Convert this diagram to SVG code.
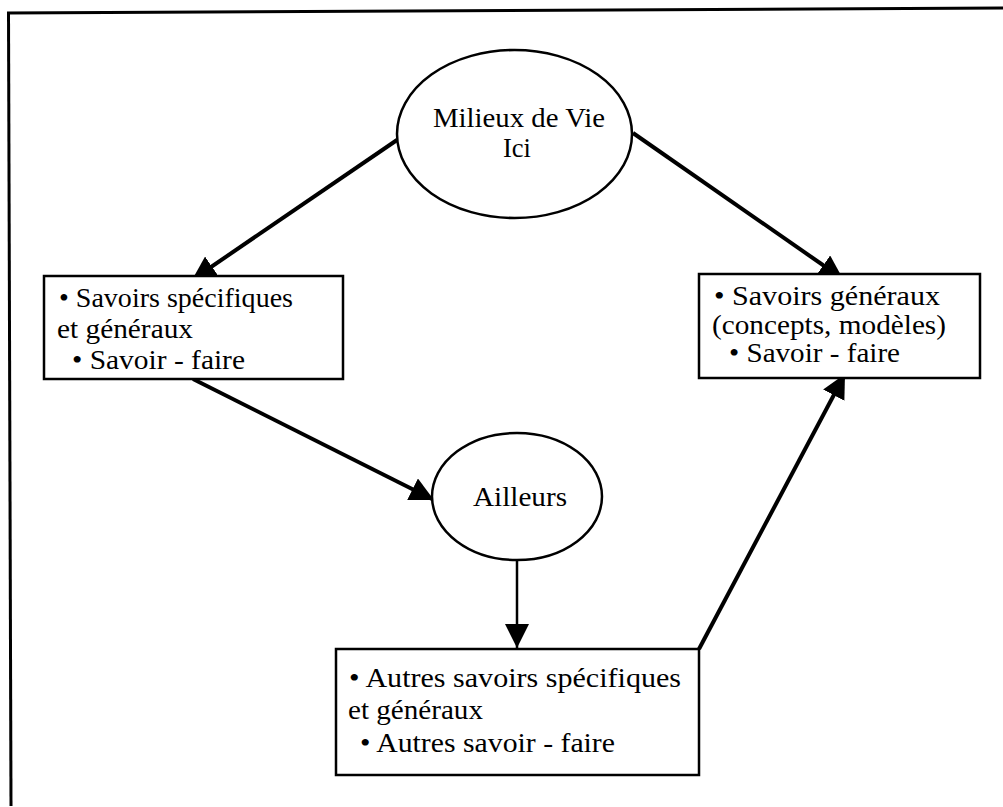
<svg xmlns="http://www.w3.org/2000/svg" width="1003" height="807" viewBox="0 0 1003 807">
<defs>
<style>
.t{font-family:"Liberation Serif","Times New Roman",serif;font-size:28px;fill:#000}
.c{text-anchor:middle}
.n{fill:#fff;stroke:#000;stroke-width:2.5}
.e{fill:#fff;stroke:#000;stroke-width:2.5}
.l{stroke:#000;stroke-width:4;fill:none}
.frame{stroke:#000;stroke-width:3;fill:none}
</style>
<marker id="ah" markerUnits="userSpaceOnUse" markerWidth="24" markerHeight="24" refX="24" refY="12" orient="auto" viewBox="0 0 24 24">
<path d="M0,0 L24,12 L0,24 z" fill="#000"/>
</marker>
</defs>
<rect width="1003" height="807" fill="#fff"/>
<g id="frame">
<line class="frame" x1="7" y1="13" x2="1003" y2="8"/>
<line class="frame" x1="8.5" y1="12" x2="11" y2="806"/>
</g>
<g id="connectors">
<line class="l" x1="397" y1="140" x2="192" y2="280" marker-end="url(#ah)"/>
<line class="l" x1="633" y1="133" x2="843" y2="279" marker-end="url(#ah)"/>
<line class="l" x1="193" y1="379" x2="434" y2="500" marker-end="url(#ah)"/>
<line class="l" style="stroke-width:2.5" x1="517" y1="560" x2="517" y2="648" marker-end="url(#ah)"/>
<line class="l" x1="699" y1="649" x2="845" y2="374" marker-end="url(#ah)"/>
</g>
<g id="milieux">
<ellipse class="e" cx="514.5" cy="134" rx="117.5" ry="84"/>
<text class="t" x="433" y="127" textLength="172" lengthAdjust="spacingAndGlyphs">Milieux de Vie</text>
<text class="t" x="503" y="157" textLength="28" lengthAdjust="spacingAndGlyphs">Ici</text>
</g>
<g id="savoirs-specifiques">
<rect class="n" x="44" y="276" width="299" height="103"/>
<text class="t" x="59" y="307" textLength="234" lengthAdjust="spacingAndGlyphs">• Savoirs spécifiques</text>
<text class="t" x="57" y="338" textLength="136" lengthAdjust="spacingAndGlyphs">et généraux</text>
<text class="t" x="72" y="369" textLength="173" lengthAdjust="spacingAndGlyphs">• Savoir - faire</text>
</g>
<g id="savoirs-generaux">
<rect class="n" x="699" y="274" width="281" height="104"/>
<text class="t" x="714" y="305" textLength="226" lengthAdjust="spacingAndGlyphs">• Savoirs généraux</text>
<text class="t" x="712" y="334" textLength="234" lengthAdjust="spacingAndGlyphs">(concepts, modèles)</text>
<text class="t" x="729" y="362" textLength="171" lengthAdjust="spacingAndGlyphs">• Savoir - faire</text>
</g>
<g id="ailleurs">
<ellipse class="e" cx="517" cy="496.5" rx="85" ry="63.5"/>
<text class="t" x="473" y="506" textLength="94" lengthAdjust="spacingAndGlyphs">Ailleurs</text>
</g>
<g id="autres-savoirs">
<rect class="n" x="336" y="649" width="363" height="126"/>
<text class="t" x="349" y="687" textLength="332" lengthAdjust="spacingAndGlyphs">• Autres savoirs spécifiques</text>
<text class="t" x="348" y="719" textLength="135" lengthAdjust="spacingAndGlyphs">et généraux</text>
<text class="t" x="360" y="752" textLength="255" lengthAdjust="spacingAndGlyphs">• Autres savoir - faire</text>
</g>
</svg>
